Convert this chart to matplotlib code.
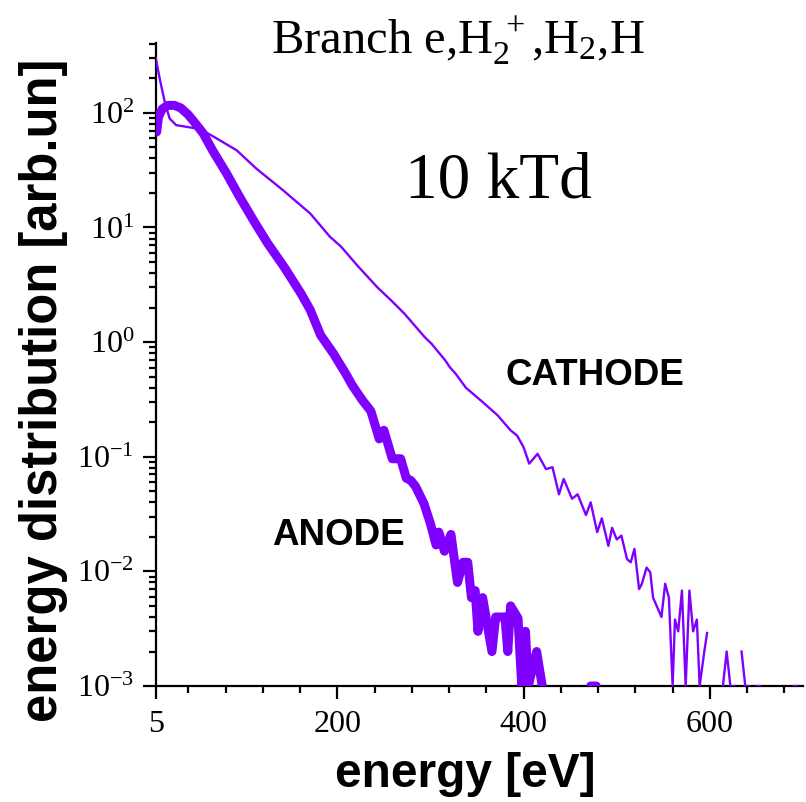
import numpy as np
import matplotlib
matplotlib.use("Agg")
import matplotlib.pyplot as plt
from matplotlib.ticker import FixedLocator, MultipleLocator, LogLocator, NullFormatter

plt.rcParams['font.family'] = ['Liberation Serif', 'DejaVu Serif']
plt.rcParams['mathtext.fontset'] = 'custom'
plt.rcParams['mathtext.rm'] = 'Liberation Serif'
plt.rcParams['mathtext.it'] = 'Liberation Serif:italic'
plt.rcParams['mathtext.bf'] = 'Liberation Serif:bold'
plt.rcParams['axes.unicode_minus'] = False

purple = '#8000FF'

# anode: energy [eV] and distribution [arb.un]; nan = no data (zero)
anode_e = [6, 8, 12, 18, 25, 32, 40, 48, 56, 66, 81, 95, 110, 125, 143, 161,
           171, 182, 196, 209, 216, 227, 236, 245, 250, 259, 268, 274, 279,
           284, 293, 300, 306, 309, 315, 322, 329, 335, 340, 344, 348, 351,
           356, 366, 370, 380, 383, 386, 394, 398, 402, 405, 414, 420,
           430, 472, 478]
anode_y = [68, 92, 108, 116, 116, 110, 96, 80, 66, 47, 29.6, 18.5, 11.5, 7.3,
           4.5, 2.65, 1.9, 1.15, 0.79, 0.53, 0.42, 0.31, 0.25, 0.143, 0.17,
           0.096, 0.096, 0.065, 0.062, 0.055, 0.039, 0.026, 0.017, 0.022,
           0.015, 0.021, 0.008, 0.012, 0.012, 0.0059, 0.0068, 0.003, 0.0059,
           0.002, 0.004, 0.004, 0.002, 0.005, 0.0039, 0.001, 0.003, 0.001,
           0.002, 0.001, np.nan, 0.001, 0.001]

cathode_e = [5, 9.6, 15, 20, 27, 42, 53, 70, 92, 113, 142, 171, 192, 204, 222,
             243, 258, 272, 294, 301, 316, 321, 327, 338, 356, 372, 386, 393,
             400, 406, 415, 424, 431, 438, 443, 452, 458, 467, 472, 479, 484,
             491, 495, 500, 505, 511, 515, 519, 524, 527, 532, 536, 539, 548,
             552, 556, 560, 562.5, 566, 570, 574, 578, 582, 586, 589, 594, 597,
             605, 614, 618, 622, 626, 630, 634, 638, 642, 646, 650, 654, 670,
             690, 694]
cathode_y = [300, 193, 121, 89, 78, 74.5, 72, 60, 47, 32.6, 21, 13.2, 8.3, 6.8,
             4.6, 3.0, 2.3, 1.77, 1.1, 0.97, 0.69, 0.60, 0.53, 0.40, 0.30, 0.23,
             0.17, 0.153, 0.121, 0.087, 0.106, 0.078, 0.081, 0.047, 0.064, 0.043,
             0.047, 0.031, 0.040, 0.022, 0.029, 0.0167, 0.024, 0.019, 0.0205,
             0.0128, 0.012, 0.0157, 0.0070, 0.0078, 0.0108, 0.0098, 0.0059,
             0.0040, 0.0078, 0.0059, 0.001, 0.0038, 0.0030, 0.0068, 0.001,
             0.0068, 0.0030, 0.0038, 0.001, 0.0020, 0.0029, np.nan, 0.001,
             0.002, 0.001, 0.001, np.nan, 0.002, 0.001, 0.001, np.nan, 0.001,
             0.001, np.nan, 0.001, 0.001]

x_major = [5, 200, 400, 600]

fig = plt.figure(figsize=(8.06, 8.02), dpi=100)
ax = fig.add_axes([0.1932, 0.1446, 0.8031, 0.8024])

ax.plot(cathode_e, cathode_y, color=purple, lw=1.7, zorder=3)
ax.plot(anode_e, anode_y, color=purple, lw=6.5, zorder=3,
        solid_capstyle='round', solid_joinstyle='round')

ax.set_yscale('log')
ax.set_xlim(5, 700)
ax.set_ylim(1e-3, 4.1e2)

ax.xaxis.set_major_locator(FixedLocator(x_major))
ax.xaxis.set_minor_locator(MultipleLocator(40))
ax.yaxis.set_minor_locator(LogLocator(base=10, subs=np.arange(2, 10)))
ax.yaxis.set_minor_formatter(NullFormatter())

for s in ['top', 'right']:
    ax.spines[s].set_visible(False)
for s in ['left', 'bottom']:
    ax.spines[s].set_linewidth(1.6)

ax.tick_params(which='major', length=9.5, width=1.6, labelsize=23)
ax.tick_params(which='minor', length=5, width=1.6)
ax.tick_params(axis='x', which='major', pad=8)
ax.tick_params(axis='y', which='major', pad=6)

sans = ['Liberation Sans', 'DejaVu Sans']
ax.set_xlabel('energy [eV]', fontsize=34.5, fontweight='bold', family=sans)
ax.set_ylabel('energy distribution [arb.un]', fontsize=36.5, fontweight='bold',
              family=sans)
ax.xaxis.set_label_coords(0.479, -0.103)
ax.yaxis.set_label_coords(-0.135, 0.46)

fig.text(0.568, 1 - 54 / 802, r'Branch e,H$_{2}^{\ +}$,H$_{2}$,H',
         fontsize=35, ha='center', va='baseline')
fig.text(0.618, 1 - 198 / 802, '10 kTd', fontsize=47, ha='center',
         va='baseline')

ax.text(476, 0.51, 'CATHODE', fontsize=26.5, fontweight='bold', family=sans,
        ha='center', va='center')
ax.text(201, 0.0205, 'ANODE', fontsize=26.5, fontweight='bold', family=sans,
        ha='center', va='center')

fig.savefig('out.png', dpi=100)
